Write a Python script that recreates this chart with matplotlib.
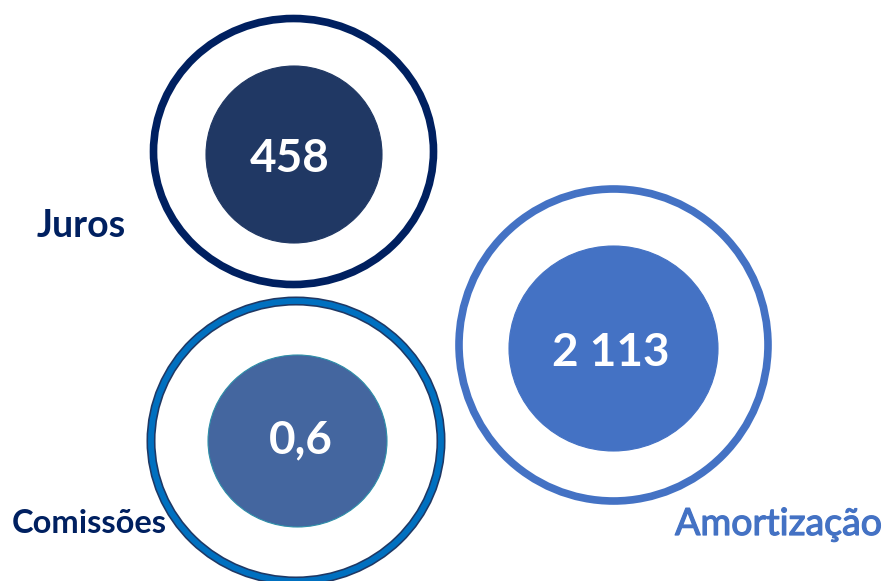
import matplotlib
matplotlib.use('Agg')
import matplotlib.pyplot as plt
import matplotlib.patheffects as pe
from matplotlib.patches import Ellipse

# data
labels = ['Juros', 'Comissões', 'Amortização']
values = ['458', '0,6', '2 113']

# layout (pixels, y down)
ring_centers = [(293.5, 151.5), (296, 441), (613.5, 345)]
ring_sizes = [(280, 266), (290, 280), (309, 312)]
ring_colors = ['#002060', '#0070C0', '#4472C4']
dot_centers = [(294, 154.5), (297.5, 441), (613.5, 348.5)]
dot_sizes = [(176, 177), (179, 172), (209, 205)]
dot_colors = ['#203864', '#44669F', '#4472C4']
value_pos = [(290, 172), (301, 453), (611, 366)]
label_pos = [(37, 237), (12, 533), (675, 535)]
label_colors = ['#002060', '#002060', '#4472C4']
label_sizes = [27, 23.5, 27]
label_weights = ['bold', 'bold', 'normal']

plt.rcParams['font.family'] = ['Lato', 'DejaVu Sans']

fig = plt.figure(figsize=(8.86, 5.81), dpi=100)
ax = fig.add_axes([0, 0, 1, 1])
ax.set_xlim(0, 886)
ax.set_ylim(581, 0)
ax.set_aspect('equal')
ax.axis('off')

for i in range(len(labels)):
    cx, cy = ring_centers[i]
    w, h = ring_sizes[i]
    if i == 1:
        # darker rim around the blue ring
        ax.add_patch(Ellipse((cx, cy), w, h, fill=False, edgecolor='#1F3864', lw=6.5))
        ax.add_patch(Ellipse((cx, cy), w, h, fill=False, edgecolor=ring_colors[i], lw=4.2))
    else:
        ax.add_patch(Ellipse((cx, cy), w, h, fill=False, edgecolor=ring_colors[i], lw=5.5))

    dx, dy = dot_centers[i]
    dw, dh = dot_sizes[i]
    edge = '#2E8FA8' if i == 1 else dot_colors[i]
    ax.add_patch(Ellipse((dx, dy), dw, dh, facecolor=dot_colors[i], edgecolor=edge, lw=0.8))

    vx, vy = value_pos[i]
    ax.text(vx, vy, values[i], color='white', fontsize=33, fontweight='bold',
            ha='center', va='baseline')

    lx, ly = label_pos[i]
    t = ax.text(lx, ly, labels[i], color=label_colors[i], fontsize=label_sizes[i],
                fontweight=label_weights[i], ha='left', va='baseline')
    if label_weights[i] == 'normal':
        # a bit heavier, like a semibold face
        t.set_path_effects([pe.withStroke(linewidth=0.9, foreground=label_colors[i])])

fig.savefig('out.png', dpi=100)
